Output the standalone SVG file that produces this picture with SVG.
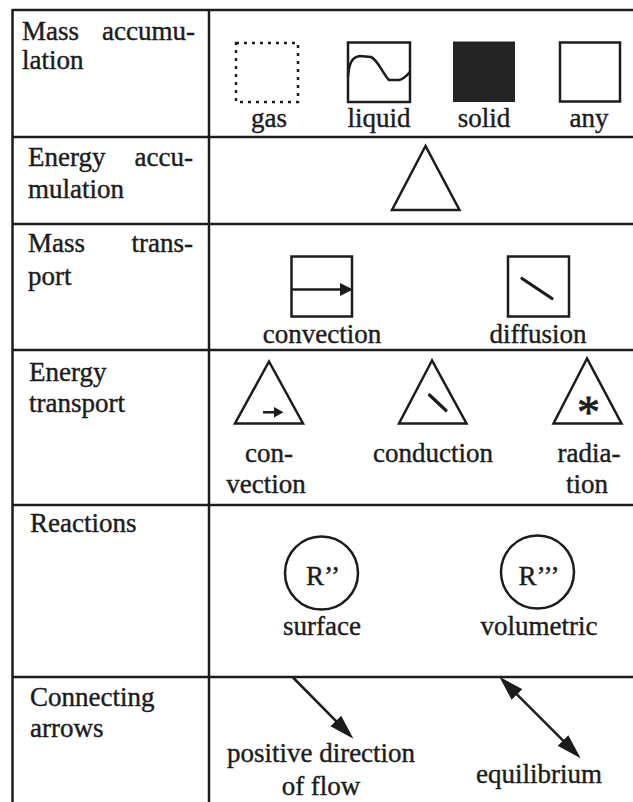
<svg xmlns="http://www.w3.org/2000/svg" width="633" height="802" viewBox="0 0 633 802" font-family="'Liberation Serif', 'DejaVu Serif', serif">
<style>
  text { font-family: 'Liberation Serif', 'DejaVu Serif', serif; font-size: 27px; fill: #1c1c1c; stroke: #1c1c1c; stroke-width: 0.4; }
  .c { text-anchor: middle; }
  .e { text-anchor: end; }
  .grid line { stroke: #1c1c1c; stroke-width: 2.5; }
  .sh { fill: none; stroke: #1c1c1c; stroke-width: 2.5; }
  .thick { fill: none; stroke: #1c1c1c; stroke-width: 3.2; stroke-linecap: round; }
  .head { fill: #1c1c1c; stroke: none; }
  .conn { fill: none; stroke: #1c1c1c; stroke-width: 2.5; }
  .star { font-size: 46px; stroke-width: 0.8; }
</style>
<defs>
  <marker id="ah" markerUnits="userSpaceOnUse" markerWidth="26" markerHeight="16" viewBox="0 0 26 16" refX="14" refY="8" orient="auto-start-reverse">
    <path d="M0,0.5 L25,8 L0,15.5 Z" fill="#1c1c1c"/>
  </marker>
</defs>
<rect width="633" height="802" fill="#ffffff"/>

<g id="table" class="grid">
  <line x1="12" y1="10" x2="633" y2="10"/>
  <line x1="12" y1="137" x2="633" y2="137"/>
  <line x1="12" y1="224" x2="633" y2="224"/>
  <line x1="12" y1="350" x2="633" y2="350"/>
  <line x1="12" y1="505" x2="633" y2="505"/>
  <line x1="12" y1="677" x2="633" y2="677"/>
  <line x1="12.5" y1="9" x2="12.5" y2="802"/>
  <line x1="209" y1="9" x2="209" y2="802"/>
</g>

<g id="row-labels">
  <g id="label-mass-accumulation">
    <text><tspan x="22" y="40">Mass</tspan> <tspan class="e" x="195" y="40">accumu-</tspan></text>
    <text x="22" y="69">lation</text>
  </g>
  <g id="label-energy-accumulation">
    <text><tspan x="28" y="166">Energy</tspan> <tspan class="e" x="193" y="166">accu-</tspan></text>
    <text x="28" y="198">mulation</text>
  </g>
  <g id="label-mass-transport">
    <text><tspan x="28" y="252">Mass</tspan> <tspan class="e" x="193" y="252">trans-</tspan></text>
    <text x="28" y="285">port</text>
  </g>
  <g id="label-energy-transport">
    <text x="29" y="381">Energy</text>
    <text x="29" y="412">transport</text>
  </g>
  <g id="label-reactions">
    <text x="30" y="532">Reactions</text>
  </g>
  <g id="label-connecting-arrows">
    <text x="30" y="706">Connecting</text>
    <text x="30" y="737">arrows</text>
  </g>
</g>

<g id="gas">
  <rect class="sh" x="236" y="43" width="62" height="59" stroke-dasharray="3 5"/>
  <text class="c" x="269" y="127">gas</text>
</g>
<g id="liquid">
  <rect class="sh" x="348" y="42.5" width="62" height="59.5"/>
  <path class="sh" d="M348,77 C349,63 352,57 360,56 L371,57 C378,60 383,74 389,80 L399,80 C404,79 407,75 410,72"/>
  <text class="c" x="379" y="127">liquid</text>
</g>
<g id="solid">
  <rect x="453" y="41.5" width="62" height="60.5" fill="#242424"/>
  <text class="c" x="484" y="127">solid</text>
</g>
<g id="any">
  <rect class="sh" x="560" y="42.5" width="60" height="59"/>
  <text class="c" x="589" y="127">any</text>
</g>

<g id="energy-accumulation">
  <polygon class="sh" points="425.5,146 392,210 459.5,210"/>
</g>

<g id="mass-convection">
  <rect class="sh" x="291.5" y="256.5" width="60.5" height="60"/>
  <line class="sh" x1="291.5" y1="289.5" x2="342" y2="289.5"/>
  <polygon class="head" points="340,283 353,289.5 340,296"/>
  <text class="c" x="322" y="343">convection</text>
</g>
<g id="mass-diffusion">
  <rect class="sh" x="508" y="256.5" width="61" height="60"/>
  <line class="thick" x1="522" y1="278.5" x2="552" y2="298.5"/>
  <text class="c" x="538" y="343">diffusion</text>
</g>

<g id="energy-convection">
  <polygon class="sh" points="269,361.5 235,423.5 303,423.5"/>
  <line class="sh" x1="263" y1="412.3" x2="275" y2="412.3"/>
  <polygon class="head" points="274,407 283.5,412.3 274,417.6"/>
  <text class="c" x="269" y="462">con-</text>
  <text class="c" x="266" y="493">vection</text>
</g>
<g id="energy-conduction">
  <polygon class="sh" points="432,360.5 399,423.5 466.5,423.5"/>
  <line class="thick" x1="429.5" y1="395" x2="446" y2="410.5"/>
  <text class="c" x="433" y="462">conduction</text>
</g>
<g id="energy-radiation">
  <polygon class="sh" points="587,358.5 553.5,423.5 621.5,423.5"/>
  <text class="c star" x="588.5" y="427.5">*</text>
  <text class="c" x="589" y="462">radia-</text>
  <text class="c" x="587" y="493">tion</text>
</g>

<g id="reaction-surface">
  <circle class="sh" cx="321.5" cy="573" r="36.5"/>
  <text class="c" x="323" y="585">R’’</text>
  <text class="c" x="322" y="635">surface</text>
</g>
<g id="reaction-volumetric">
  <circle class="sh" cx="537.5" cy="572" r="36.5"/>
  <text class="c" x="539" y="585">R’’’</text>
  <text class="c" x="539" y="635">volumetric</text>
</g>

<g id="connectors">
  <path id="arrow-positive" class="conn" d="M293,677.5 L345.7,730.9" marker-end="url(#ah)"/>
  <path id="arrow-equilibrium" class="conn" d="M507.1,684.6 L572.9,750.4" marker-start="url(#ah)" marker-end="url(#ah)"/>
</g>
<g id="arrow-labels">
  <text class="c" x="321" y="762">positive direction</text>
  <text class="c" x="321" y="795">of flow</text>
  <text class="c" x="539" y="783">equilibrium</text>
</g>
</svg>
